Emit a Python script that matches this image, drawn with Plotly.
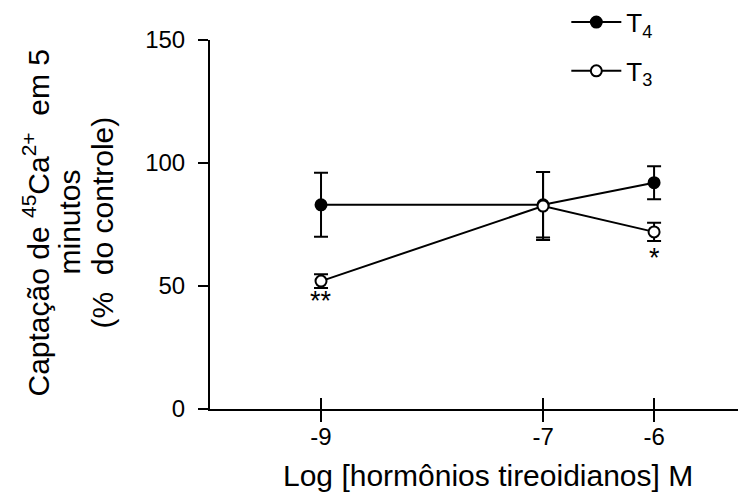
import plotly.graph_objects as go

# log concentration of thyroid hormones (M)
log_conc = [-9, -7, -6]

t4_mean = [83, 83, 92]
t4_err = [13, 13.3, 6.7]

t3_mean = [52, 82.5, 72]
t3_err = [2.8, 13.8, 3.7]

# significance marks
sig_x = [-9, -6]
sig_y = [44, 61.5]
sig_text = ['**', '*']

x_ticks = [-9, -7, -6]
y_ticks = [0, 50, 100, 150]

x_title = 'Log [hormônios tireoidianos] M'
y_title_lines = ['Captação de <sup>45</sup>Ca<sup>2+</sup>  em 5', 'minutos', '(%  do controle)']

FONT = 'Arial, Liberation Sans, sans-serif'

fig = go.Figure()

fig.add_trace(go.Scatter(
    x=log_conc, y=t4_mean, name='T<sub>4</sub>', mode='lines+markers', legendgroup='t4',
    line=dict(color='black', width=2),
    marker=dict(symbol='circle', size=11, color='black', line=dict(color='black', width=2)),
    error_y=dict(type='data', array=t4_err, color='black', thickness=2, width=7)
))
fig.add_trace(go.Scatter(
    x=log_conc, y=t3_mean, name='T<sub>3</sub>', mode='lines+markers', legendgroup='t3',
    line=dict(color='black', width=2),
    marker=dict(symbol='circle', size=11, color='white', line=dict(color='black', width=2)),
    error_y=dict(type='data', array=t3_err, color='black', thickness=2, width=7)
))

for sx, sy, st in zip(sig_x, sig_y, sig_text):
    fig.add_annotation(x=sx, y=sy, text=st, showarrow=False,
                       font=dict(family=FONT, size=27, color='black'))

# y title: three rotated lines, tighter spacing than plotly's default
for i, line in enumerate(y_title_lines):
    fig.add_annotation(xref='paper', yref='paper', x=0, y=0.5,
                       xshift=-174 + i * 33, yshift=2,
                       text=line, textangle=-90, showarrow=False,
                       xanchor='center', yanchor='middle',
                       font=dict(family=FONT, size=30, color='black'))

# x title as annotation so it sits where the original has it
fig.add_annotation(xref='paper', yref='paper', x=0.5, y=0, xshift=6, yshift=-66,
                   text=x_title, showarrow=False, xanchor='center', yanchor='middle',
                   font=dict(family=FONT, size=30, color='black'))

fig.update_layout(
    width=746, height=493,
    margin=dict(l=202, r=0, t=32, b=92, autoexpand=False),
    plot_bgcolor='white',
    paper_bgcolor='white',
    font=dict(family=FONT, color='black', size=24),
    showlegend=True,
    legend=dict(x=0.655, y=1.112, xanchor='left', yanchor='top', tracegroupgap=12,
                bgcolor='rgba(0,0,0,0)', font=dict(size=26), itemwidth=50),
)

fig.update_xaxes(
    range=[-10, -5.1],
    tickvals=x_ticks, ticktext=[str(v) for v in x_ticks],
    ticks='inside', ticklen=11, tickwidth=2, tickcolor='black',
    ticklabelstandoff=5,
    showline=True, linecolor='black', linewidth=2,
    showgrid=False, zeroline=False,
    tickfont=dict(size=24),
)
fig.update_yaxes(
    range=[0, 150],
    tickvals=y_ticks,
    ticks='outside', ticklen=10, tickwidth=2, tickcolor='black',
    ticklabelstandoff=8,
    showline=True, linecolor='black', linewidth=2,
    showgrid=False, zeroline=False,
    tickfont=dict(size=24),
)

# x ticks in the original cross the axis line: outside half via overlay axis
fig.update_layout(xaxis2=dict(
    overlaying='x', matches='x', range=[-10, -5.1], tickvals=x_ticks,
    ticks='outside', ticklen=12, tickwidth=2, tickcolor='black',
    showticklabels=False, showline=False, showgrid=False, zeroline=False,
    side='bottom', anchor='y'
))
fig.add_trace(go.Scatter(x=[], y=[], xaxis='x2', showlegend=False, hoverinfo='skip'))

fig.write_html("out.html")
